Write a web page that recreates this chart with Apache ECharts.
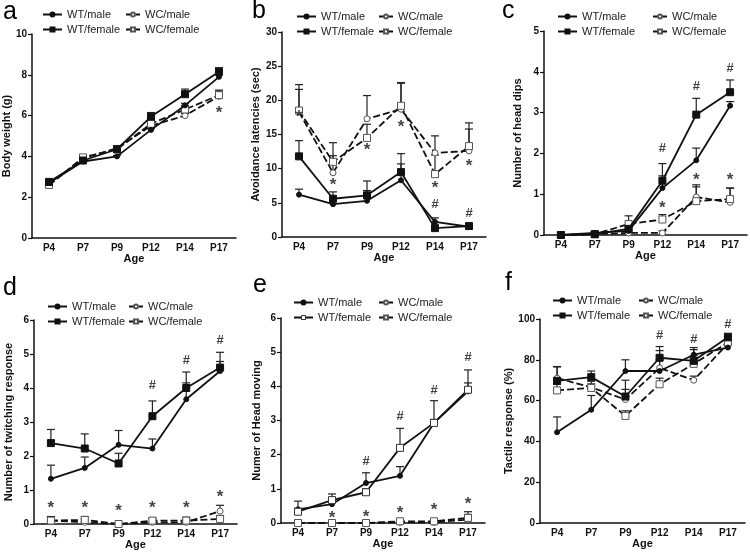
<!DOCTYPE html>
<html>
<head>
<meta charset="utf-8">
<title>WT vs WC</title>
<script src="https://cdn.jsdelivr.net/npm/echarts@6/dist/echarts.min.js"></script>
<style>html,body{margin:0;padding:0;background:#fff}</style>
</head>
<body>
<div id="main" style="width:750px;height:552px;"></div>
<script type="text/javascript">
// categories and groups (order: WT/male, WT/female, WC/male, WC/female)
var ages = ['P4', 'P7', 'P9', 'P12', 'P14', 'P17'];
var groups = ['WT/male', 'WT/female', 'WC/male', 'WC/female'];

// a - body weight (g)
var bodyWeight = [
	[2.7, 3.75, 4.0, 5.3, 6.5, 7.9],
	[2.75, 3.8, 4.35, 5.95, 7.05, 8.15],
	[2.6, 3.9, 4.4, 5.5, 6.0, 6.95],
	[2.6, 3.95, 4.35, 5.6, 6.3, 7.0]
];
var bodyWeightErr = [
	[0.05, 0.05, 0.05, 0.05, 0.1, 0.1],
	[0.05, 0.1, 0.15, 0.2, 0.25, 0.2],
	[0.05, 0.1, 0.1, 0.15, 0.1, 0.25],
	[0.05, 0.1, 0.1, 0.15, 0.2, 0.25]
];
var bodyWeightSig = [['P17', 6.3, '*']];

// b - avoidance latencies (sec)
var avoidance = [
	[6.2, 4.8, 5.3, 8.3, 2.2, 1.5],
	[11.8, 5.6, 6.1, 9.5, 1.3, 1.6],
	[18.3, 9.4, 17.3, 18.7, 12.3, 12.6],
	[18.5, 11.0, 14.5, 19.2, 9.2, 13.3]
];
var avoidanceErr = [
	[0.8, 0.5, 1.5, 2.4, 0.6, 0.2],
	[2.3, 1.0, 2.1, 2.7, 0.3, 0.3],
	[3.3, 2.5, 3.4, 3.8, 2.5, 3.2],
	[3.8, 2.8, 2.0, 3.4, 2.8, 3.4]
];
var avoidanceSig = [['P4', 18.1, '*'], ['P7', 8.1, '*'], ['P9', 13.2, '*'], ['P12', 16.6, '*'],
	['P14', 7.7, '*'], ['P17', 11.0, '*'], ['P14', 4.75, '#'], ['P17', 3.5, '#']];

// c - head dips
var headDips = [
	[0, 0.05, 0.1, 1.15, 1.83, 3.17],
	[0, 0.02, 0.15, 1.33, 2.95, 3.5],
	[0, 0.02, 0.05, 0.05, 0.93, 0.8],
	[0, 0.02, 0.27, 0.38, 0.83, 0.88]
];
var headDipsErr = [
	[0, 0.02, 0.05, 0.3, 0.3, 0.1],
	[0, 0.02, 0.05, 0.42, 0.4, 0.3],
	[0, 0.02, 0.05, 0.05, 0.3, 0.35],
	[0, 0.02, 0.2, 0.12, 0.35, 0.27]
];
var headDipsSig = [['P12', 2.13, '#'], ['P14', 3.65, '#'], ['P17', 4.08, '#'],
	['P12', 0.74, '*'], ['P14', 1.43, '*'], ['P17', 1.43, '*']];

// d - twitching response
var twitching = [
	[1.33, 1.65, 2.33, 2.22, 3.67, 4.5],
	[2.38, 2.22, 1.78, 3.17, 4.0, 4.6],
	[0.1, 0.05, 0.0, 0.05, 0.05, 0.38],
	[0.1, 0.12, 0.0, 0.1, 0.1, 0.15]
];
var twitchingErr = [
	[0.4, 0.32, 0.42, 0.28, 0.48, 0.28],
	[0.4, 0.43, 0.3, 0.45, 0.47, 0.45],
	[0.1, 0.1, 0, 0.1, 0.1, 0.17],
	[0.12, 0.1, 0, 0.08, 0.1, 0.1]
];
var twitchingSig = [['P4', 0.59, '*'], ['P7', 0.59, '*'], ['P9', 0.5, '*'], ['P12', 0.59, '*'],
	['P14', 0.59, '*'], ['P17', 0.91, '*'], ['P12', 4.09, '#'], ['P14', 4.8, '#'], ['P17', 5.41, '#']];

// e - head moving
var headMoving = [
	[0.4, 0.55, 1.17, 1.38, 2.93, 3.85],
	[0.33, 0.67, 0.9, 2.2, 2.93, 3.9],
	[0, 0, 0, 0.02, 0.02, 0.1],
	[0, 0, 0, 0.05, 0.05, 0.15]
];
var headMovingErr = [
	[0.24, 0.1, 0.3, 0.27, 0.1, 0.25],
	[0.1, 0.18, 0.1, 0.57, 0.65, 0.58],
	[0, 0, 0, 0.03, 0.05, 0.15],
	[0, 0, 0, 0.03, 0.05, 0.18]
];
var headMovingSig = [['P9', 1.81, '#'], ['P12', 3.12, '#'], ['P14', 3.87, '#'], ['P17', 4.85, '#'],
	['P7', 0.24, '*'], ['P9', 0.27, '*'], ['P12', 0.39, '*'], ['P14', 0.49, '*'], ['P17', 0.66, '*']];

// f - tactile response (%)
var tactile = [
	[44.5, 55.5, 74.5, 74.5, 82.5, 86],
	[69.7, 71.5, 62, 81, 79.5, 91],
	[71, 66.5, 60.5, 76, 70, 88],
	[65, 66.2, 52.5, 68, 78, 88.5]
];
var tactileErr = [
	[7.5, 7, 5.5, 10, 3.5, 2],
	[7, 3, 8, 5.5, 5.5, 2],
	[5.5, 3, 5, 4, 2, 2],
	[3, 2, 2.5, 3, 4, 3]
];
var tactileSig = [['P12', 91.8, '#'], ['P14', 89.9, '#'], ['P17', 97.5, '#']];

var panels = [
	{ tag: 'a', values: bodyWeight, err: bodyWeightErr, sig: bodyWeightSig, yName: 'Body weight (g)', max: 10, step: 2,
		grid: { left: 32, top: 34, width: 204, height: 204 }, nameGap: 18, tagPos: [3, 0], leg: [42, 125, 9] },
	{ tag: 'b', values: avoidance, err: avoidanceErr, sig: avoidanceSig, yName: 'Avoidance latencies (sec)', max: 30, step: 5,
		grid: { left: 282, top: 32, width: 204, height: 205 }, nameGap: 21, tagPos: [252, -1], leg: [296, 378, 11] },
	{ tag: 'c', values: headDips, err: headDipsErr, sig: headDipsSig, yName: 'Number of head dips', max: 5, step: 1,
		grid: { left: 544, top: 31, width: 203, height: 204 }, nameGap: 21, tagPos: [502, -1], leg: [557, 652, 11] },
	{ tag: 'd', values: twitching, err: twitchingErr, sig: twitchingSig, yName: 'Number of twitching response', max: 6, step: 1,
		grid: { left: 34, top: 320, width: 203, height: 204 }, nameGap: 20, tagPos: [3, 276], leg: [47, 128, 301] },
	{ tag: 'e', values: headMoving, err: headMovingErr, sig: headMovingSig, yName: 'Numer of Head moving', max: 6, step: 1,
		grid: { left: 281, top: 318, width: 204, height: 205 }, nameGap: 19, tagPos: [253, 273], leg: [293, 378, 297], openFemale: true },
	{ tag: 'f', values: tactile, err: tactileErr, sig: tactileSig, yName: 'Tactile response (%)', max: 100, step: 20,
		grid: { left: 540, top: 319, width: 205, height: 204 }, nameGap: 22, tagPos: [505, 271], leg: [552, 638, 295] }
];

var ink = '#111';
var styles = [
	{ symbol: 'circle', size: 5, fill: ink, border: ink, dash: 'solid' },
	{ symbol: 'rect', size: 7, fill: ink, border: ink, dash: 'solid' },
	{ symbol: 'circle', size: 6, fill: '#fff', border: '#555', dash: [7, 3] },
	{ symbol: 'rect', size: 7, fill: '#fff', border: '#555', dash: [7, 3] }
];

function errBar(params, api) {
	var e = api.value(2);
	if (!e) return;
	var p0 = api.coord([api.value(0), api.value(1)]);
	var p1 = api.coord([api.value(0), api.value(1) + e]);
	var st = { stroke: '#222', lineWidth: 1.2 };
	return {
		type: 'group',
		children: [
			{ type: 'line', shape: { x1: p0[0], y1: p0[1], x2: p1[0], y2: p1[1] }, style: st },
			{ type: 'line', shape: { x1: p1[0] - 4, y1: p1[1], x2: p1[0] + 4, y2: p1[1] }, style: st }
		]
	};
}

var grids = [], xAxes = [], yAxes = [], series = [], legends = [], titles = [];
var lblFont = { fontFamily: 'Liberation Sans', fontWeight: 'bold', color: ink };

panels.forEach(function (p, idx) {
	grids.push(p.grid);
	titles.push({ text: p.tag, left: p.tagPos[0], top: p.tagPos[1], padding: 0,
		textStyle: { fontSize: 25, fontWeight: 'normal', color: '#000', fontFamily: 'Liberation Sans' } });
	xAxes.push({
		type: 'category', gridIndex: idx, data: ages,
		name: 'Age', nameLocation: 'middle', nameGap: 15,
		nameTextStyle: Object.assign({ fontSize: 11 }, lblFont),
		axisLine: { lineStyle: { color: ink, width: 1.5 } },
		axisTick: { alignWithLabel: true, length: 4, lineStyle: { color: ink, width: 1.2 } },
		axisLabel: Object.assign({ fontSize: 10, margin: 5 }, lblFont)
	});
	yAxes.push({
		type: 'value', gridIndex: idx, min: 0, max: p.max, interval: p.step,
		name: p.yName, nameLocation: 'middle', nameGap: p.nameGap,
		nameTextStyle: Object.assign({ fontSize: 11 }, lblFont),
		axisLine: { show: true, lineStyle: { color: ink, width: 1.5 } },
		axisTick: { show: true, length: 4, lineStyle: { color: ink, width: 1.2 } },
		axisLabel: Object.assign({ fontSize: 10, margin: 5 }, lblFont),
		splitLine: { show: false }
	});

	p.values.forEach(function (vals, g) {
		var s = styles[g];
		var fill = s.fill, border = s.border;
		if (p.openFemale && g === 1) { fill = '#fff'; border = '#333'; }
		series.push({
			type: 'custom', xAxisIndex: idx, yAxisIndex: idx, z: 1,
			renderItem: errBar,
			data: vals.map(function (v, i) { return [i, v, p.err[g][i]]; })
		});
		series.push({
			name: groups[g], type: 'line', xAxisIndex: idx, yAxisIndex: idx, z: 3 + (g < 2 ? 1 : 0),
			data: vals, symbol: s.symbol, symbolSize: s.size, showSymbol: true,
			lineStyle: { color: ink, width: 1.8, type: s.dash },
			itemStyle: { color: fill, borderColor: border, borderWidth: 1 }
		});
	});

	// significance marks; the asterisk glyph sits high in its box, so nudge it down
	series.push({
		type: 'scatter', xAxisIndex: idx, yAxisIndex: idx, symbolSize: 0, z: 5,
		data: p.sig.map(function (m) {
			var star = m[2] === '*';
			return { name: m[2], value: [m[0], m[1]],
				label: { fontSize: star ? 17 : 13, offset: [0, star ? 4 : 0] } };
		}),
		label: {
			show: true, position: 'inside', formatter: '{b}', color: ink,
			fontFamily: 'Liberation Sans', fontWeight: 'bold'
		}
	});

	var legBase = {
		orient: 'vertical', top: p.leg[2], padding: 0, itemGap: 4, itemHeight: 5,
		selectedMode: false,
		textStyle: { fontSize: 11, color: '#222', fontFamily: 'Liberation Sans' }
	};
	var femaleItem = p.openFemale ?
		{ name: 'WT/female', itemStyle: { color: '#fff', borderColor: '#333', borderWidth: 1 } } : 'WT/female';
	legends.push(Object.assign({}, legBase, { left: p.leg[0], itemWidth: 19, data: ['WT/male', femaleItem] }));
	legends.push(Object.assign({}, legBase, { left: p.leg[1], itemWidth: 14, data: ['WC/male', 'WC/female'] }));
});

var myChart = echarts.init(document.getElementById('main'));
myChart.setOption({
	animation: false,
	backgroundColor: '#fff',
	textStyle: { fontFamily: 'Liberation Sans' },
	title: titles,
	legend: legends,
	grid: grids,
	xAxis: xAxes,
	yAxis: yAxes,
	series: series
});
</script>
</body>
</html>
